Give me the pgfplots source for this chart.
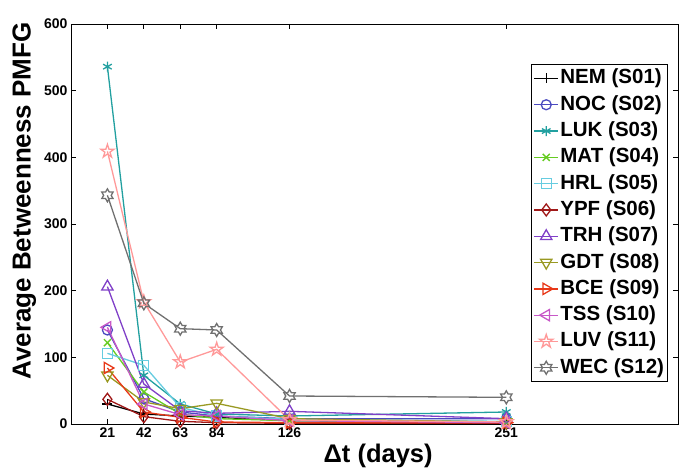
\documentclass[border=0pt]{standalone}
\usepackage{pgfplots}
\pgfplotsset{compat=1.18}
\usepackage{fontspec}
\setmainfont{Liberation Sans}
\usetikzlibrary{plotmarks}

\definecolor{cNEM}{HTML}{000000}
\definecolor{cNOC}{HTML}{4A4AC0}
\definecolor{cLUK}{HTML}{22A0A0}
\definecolor{cMAT}{HTML}{66CC22}
\definecolor{cHRL}{HTML}{66CCE0}
\definecolor{cYPF}{HTML}{A01818}
\definecolor{cTRH}{HTML}{8040C8}
\definecolor{cGDT}{HTML}{999922}
\definecolor{cBCE}{HTML}{E83818}
\definecolor{cTSS}{HTML}{C858C8}
\definecolor{cLUV}{HTML}{FF9999}
\definecolor{cWEC}{HTML}{707070}

\pgfdeclareplotmark{pentagram}{%
  \pgfpathmoveto{\pgfpointpolar{90}{\pgfplotmarksize}}%
  \pgfpathlineto{\pgfpointpolar{126}{0.382\pgfplotmarksize}}%
  \pgfpathlineto{\pgfpointpolar{162}{\pgfplotmarksize}}%
  \pgfpathlineto{\pgfpointpolar{198}{0.382\pgfplotmarksize}}%
  \pgfpathlineto{\pgfpointpolar{234}{\pgfplotmarksize}}%
  \pgfpathlineto{\pgfpointpolar{270}{0.382\pgfplotmarksize}}%
  \pgfpathlineto{\pgfpointpolar{306}{\pgfplotmarksize}}%
  \pgfpathlineto{\pgfpointpolar{342}{0.382\pgfplotmarksize}}%
  \pgfpathlineto{\pgfpointpolar{18}{\pgfplotmarksize}}%
  \pgfpathlineto{\pgfpointpolar{54}{0.382\pgfplotmarksize}}%
  \pgfpathclose\pgfusepathqstroke}
\pgfdeclareplotmark{hexagram}{%
  \pgfpathmoveto{\pgfpointpolar{90}{\pgfplotmarksize}}%
  \pgfpathlineto{\pgfpointpolar{120}{0.577\pgfplotmarksize}}%
  \pgfpathlineto{\pgfpointpolar{150}{\pgfplotmarksize}}%
  \pgfpathlineto{\pgfpointpolar{180}{0.577\pgfplotmarksize}}%
  \pgfpathlineto{\pgfpointpolar{210}{\pgfplotmarksize}}%
  \pgfpathlineto{\pgfpointpolar{240}{0.577\pgfplotmarksize}}%
  \pgfpathlineto{\pgfpointpolar{270}{\pgfplotmarksize}}%
  \pgfpathlineto{\pgfpointpolar{300}{0.577\pgfplotmarksize}}%
  \pgfpathlineto{\pgfpointpolar{330}{\pgfplotmarksize}}%
  \pgfpathlineto{\pgfpointpolar{0}{0.577\pgfplotmarksize}}%
  \pgfpathlineto{\pgfpointpolar{30}{\pgfplotmarksize}}%
  \pgfpathlineto{\pgfpointpolar{60}{0.577\pgfplotmarksize}}%
  \pgfpathclose\pgfusepathqstroke}

\pgfplotstableread{
x   NEM NOC LUK MAT HRL YPF TRH GDT BCE TSS LUV WEC
21  30  141 536 122 106 37  206 73  84  145 409 343
42  15  38  73  48  88  11  60  33  18  30  183 181
63  12  18  30  15  25  4   20  23  10  14  93  143
84  10  12  15  8   12  2   16  31  3   12  112 141
126 5   8   12  5   7   1   19  8   2   5   6   42
251 3   8   18  3   4   1   8   3   2   2   3   40
}\datatable

\begin{document}
\begin{tikzpicture}
\useasboundingbox (-71pt,-49pt) rectangle (620pt,424pt);
\begin{axis}[
  at={(0pt,0pt)}, anchor=south west,
  scale only axis, width=607pt, height=400pt,
  xmin=0, xmax=350, ymin=0, ymax=600,
  xtick={21,42,63,84,126,251},
  ytick={0,100,200,300,400,500,600},
  tick align=inside, major tick length=5pt,
  xtick pos=both, ytick pos=both,
  axis line style={line width=0.9pt},
  tick style={line width=0.7pt, black},
  ticklabel style={font=\fontsize{14}{16}\selectfont\bfseries},
  /pgf/number format/assume math mode=true,
  xlabel={Δt (days)},
  ylabel={Average Betweenness PMFG},
  xlabel style={font=\fontsize{25.5}{28}\selectfont\bfseries, at={(axis description cs:0.506,-0.08)}, anchor=center},
  ylabel style={font=\fontsize{26}{28}\selectfont\bfseries, at={(axis description cs:-0.077,0.5575)}, anchor=center},
  every axis plot/.append style={line width=1.3pt, mark size=5pt},
  legend style={at={(axis description cs:0.9835,0.9)}, anchor=north east,
    font=\fontsize{20.5}{22}\selectfont\bfseries, draw=black, line width=0.9pt,
    row sep=4.3pt, inner xsep=2pt, inner ysep=3pt,
    nodes={inner sep=1.5pt, text height=15pt, text depth=4pt}},
  legend cell align=left,
  legend image code/.code={\draw[mark repeat=2,mark phase=2] plot coordinates {(0pt,0pt) (12pt,0pt) (24pt,0pt)};},
]
\addplot[cNEM, mark=+] table[x=x,y=NEM] {\datatable};
\addlegendentry{NEM (S01)}
\addplot[cNOC, mark=o] table[x=x,y=NOC] {\datatable};
\addlegendentry{NOC (S02)}
\addplot[cLUK, mark=asterisk] table[x=x,y=LUK] {\datatable};
\addlegendentry{LUK (S03)}
\addplot[cMAT, mark=x] table[x=x,y=MAT] {\datatable};
\addlegendentry{MAT (S04)}
\addplot[cHRL, mark=square] table[x=x,y=HRL] {\datatable};
\addlegendentry{HRL (S05)}
\addplot[cYPF, mark=diamond, mark size=6pt] table[x=x,y=YPF] {\datatable};
\addlegendentry{YPF (S06)}
\addplot[cTRH, mark=triangle, mark size=6.5pt] table[x=x,y=TRH] {\datatable};
\addlegendentry{TRH (S07)}
\addplot[cGDT, mark=triangle, mark size=6.5pt, mark options={rotate=180}] table[x=x,y=GDT] {\datatable};
\addlegendentry{GDT (S08)}
\addplot[cBCE, mark=triangle, mark size=6.5pt, mark options={rotate=-90}] table[x=x,y=BCE] {\datatable};
\addlegendentry{BCE (S09)}
\addplot[cTSS, mark=triangle, mark size=6.5pt, mark options={rotate=90}] table[x=x,y=TSS] {\datatable};
\addlegendentry{TSS (S10)}
\addplot[cLUV, mark=pentagram, mark size=7pt] table[x=x,y=LUV] {\datatable};
\addlegendentry{LUV (S11)}
\addplot[cWEC, mark=hexagram, mark size=6.5pt] table[x=x,y=WEC] {\datatable};
\addlegendentry{WEC (S12)}
\end{axis}
\end{tikzpicture}
\end{document}
